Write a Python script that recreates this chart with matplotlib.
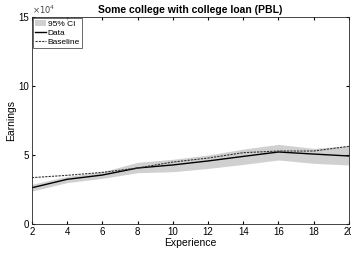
import numpy as np
import matplotlib
matplotlib.use('Agg')
import matplotlib.pyplot as plt

plt.rcParams['font.family'] = ['Liberation Sans', 'DejaVu Sans']

# Data
experience = [2, 4, 6, 8, 10, 12, 14, 16, 18, 20]
data = [26300, 32400, 35500, 40600, 42800, 45700, 49000, 52200, 50700, 49300]
baseline = [33600, 35300, 37400, 40600, 44900, 47800, 51700, 52900, 52900, 56300]
ci_low = [23900, 30000, 33100, 37200, 37900, 40300, 43200, 46400, 44000, 42800]
ci_high = [28800, 34500, 37900, 44700, 46900, 50000, 54300, 57700, 54800, 56700]

fig = plt.figure(figsize=(3.51, 2.54), dpi=100)
ax = fig.add_axes([0.091, 0.118, 0.903, 0.815])

ax.fill_between(experience, ci_low, ci_high, color='#d0d0d0', linewidth=0, label='95% CI')
ax.plot(experience, data, color='black', linewidth=1.0, label='Data')
ax.plot(experience, baseline, color='#333333', linewidth=0.8, linestyle=(0, (2, 1)), label='Baseline')

ax.set_xlim(2, 20)
ax.set_ylim(0, 150000)
ax.set_xticks(range(2, 21, 2))
ax.set_yticks([0, 50000, 100000, 150000])
ax.set_yticklabels(['0', '5', '10', '15'])
ax.tick_params(direction='in', length=2.5, labelsize=7, top=True, right=True, pad=2)
for s in ax.spines.values():
    s.set_linewidth(0.6)
    s.set_color('#262626')

ax.text(0.0, 1.005, r'$\times10^4$', transform=ax.transAxes, fontsize=6, ha='left', va='bottom', color='#444444')
ax.set_title('Some college with college loan (PBL)', fontsize=7.5, fontweight='bold', pad=3)
ax.set_xlabel('Experience', fontsize=7.5, labelpad=1)
ax.set_ylabel('Earnings', fontsize=7.5, labelpad=2)

leg = ax.legend(loc='upper left', fontsize=6, frameon=True, fancybox=False, borderpad=0.25,
                labelspacing=0.1, handlelength=1.3, handletextpad=0.2, borderaxespad=0.15)
leg.get_frame().set_linewidth(0.6)
leg.get_frame().set_edgecolor('#262626')

fig.savefig('out.png', dpi=100)
